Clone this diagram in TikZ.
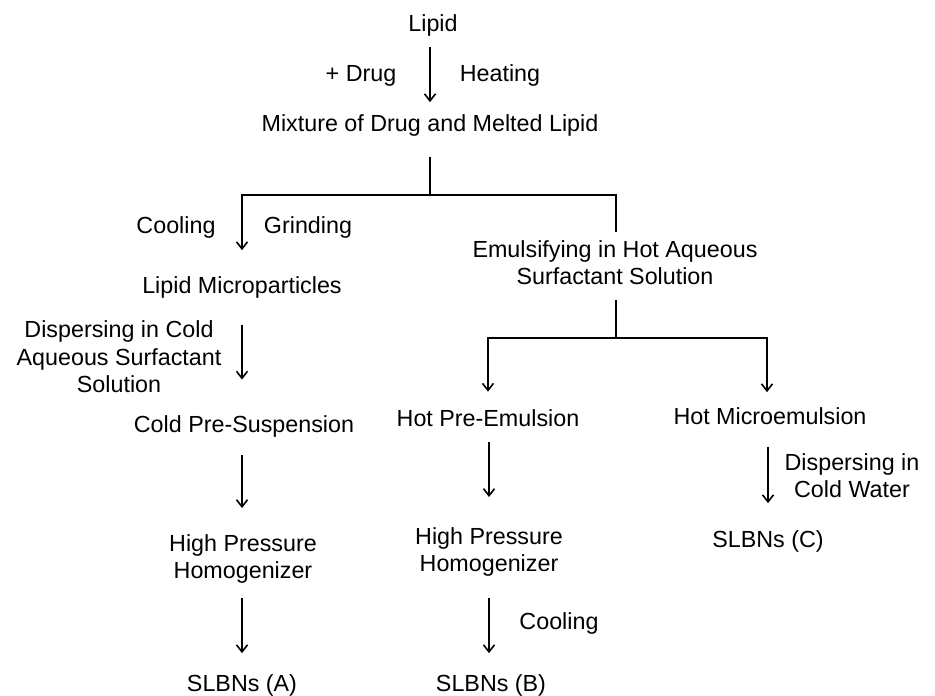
\documentclass[tikz,border=0pt]{standalone}
\usepackage{fontspec}
\setmainfont{Liberation Sans}
\usetikzlibrary{arrows.meta}
\begin{document}
\begin{tikzpicture}[x=1pt,y=-1pt,
  lbl/.style={font=\fontsize{23.3}{27.5}\selectfont, inner sep=0pt, text height=16.5pt, text depth=4.8pt, anchor=center},
  ml/.style={font=\fontsize{23.3}{27.5}\selectfont, inner sep=0pt, align=center, anchor=north},
  ln/.style={line width=1.6pt},
  arr/.style={ln, -{Straight Barb[length=7pt,width=11pt]}}]
\useasboundingbox (0,0) rectangle (935,696);

% nodes
\node[lbl] (lipid) at (433,26) {Lipid};
\node[lbl] (drug) at (361,76) {+ Drug};
\node[lbl] (heat) at (500,76) {Heating};
\node[lbl] (mix) at (430,126) {Mixture of Drug and Melted Lipid};
\node[lbl] (cool1) at (176,227.5) {Cooling};
\node[lbl] (grind) at (308,227.5) {Grinding};
\node[lbl] (micro) at (242,288) {Lipid Microparticles};
\node[ml] (emul) at (615,240) {Emulsifying in Hot Aqueous\\Surfactant Solution};
\node[ml] (disp) at (119,320.5) {Dispersing in Cold\\Aqueous Surfactant\\Solution};
\node[lbl] (coldpre) at (244,426.4) {Cold Pre-Suspension};
\node[lbl] (hotpre) at (488,420.5) {Hot Pre-Emulsion};
\node[lbl] (hotmicro) at (770,419) {Hot Microemulsion};
\node[ml] (hphA) at (243,534) {High Pressure\\Homogenizer};
\node[ml] (hphB) at (489,527) {High Pressure\\Homogenizer};
\node[ml] (dispC) at (852,453) {Dispersing in\\Cold Water};
\node[lbl] (slbnC) at (768,542) {SLBNs (C)};
\node[lbl] (coolB) at (559,624) {Cooling};
\node[lbl] (slbnA) at (242,686) {SLBNs (A)};
\node[lbl] (slbnB) at (491,686) {SLBNs (B)};

% junctions
\coordinate (j1) at (430,195);
\coordinate (jL) at (242,195);
\coordinate (jR) at (616,195);
\coordinate (j2) at (616,338);
\coordinate (jPL) at (488,338);
\coordinate (jPR) at (767,338);

% connectors
\draw[arr] ([yshift=-10pt]lipid.south -| mix.north) -- ([yshift=13pt]mix.north);
\draw[ln] ([yshift=-20pt]mix.south) -- (j1);
\draw[arr] ([yshift=8pt]emul.north -| jR) -- (jR) -- (jL) -- ([yshift=27pt]micro.north -| jL);
\draw[ln] ([yshift=-60pt]emul.north -| j2) -- (j2);
\draw[arr] (j2) -- (jPL) -- ([yshift=18pt]hotpre.north -| jPL);
\draw[arr] (j2) -- (jPR) -- ([yshift=16pt]hotmicro.north -| jPR);
\draw[arr] ([yshift=-26pt]micro.south) -- ([yshift=36pt]coldpre.north -| micro.south);
\draw[arr] ([yshift=-18pt]coldpre.south -| micro.south) -- ([yshift=26pt]hphA.north -| micro.south);
\draw[arr] ([yshift=-64pt]hphA.north -| slbnA.north) -- ([yshift=22pt]slbnA.north);
\draw[arr] ([yshift=-11pt]hotpre.south -| hphB.north) -- ([yshift=30pt]hphB.north);
\draw[arr] ([yshift=-71pt]hphB.north) -- ([yshift=22pt]slbnB.north -| hphB.north);
\draw[arr] ([yshift=-17pt]hotmicro.south -| slbnC.north) -- ([yshift=28pt]slbnC.north);
\end{tikzpicture}
\end{document}
